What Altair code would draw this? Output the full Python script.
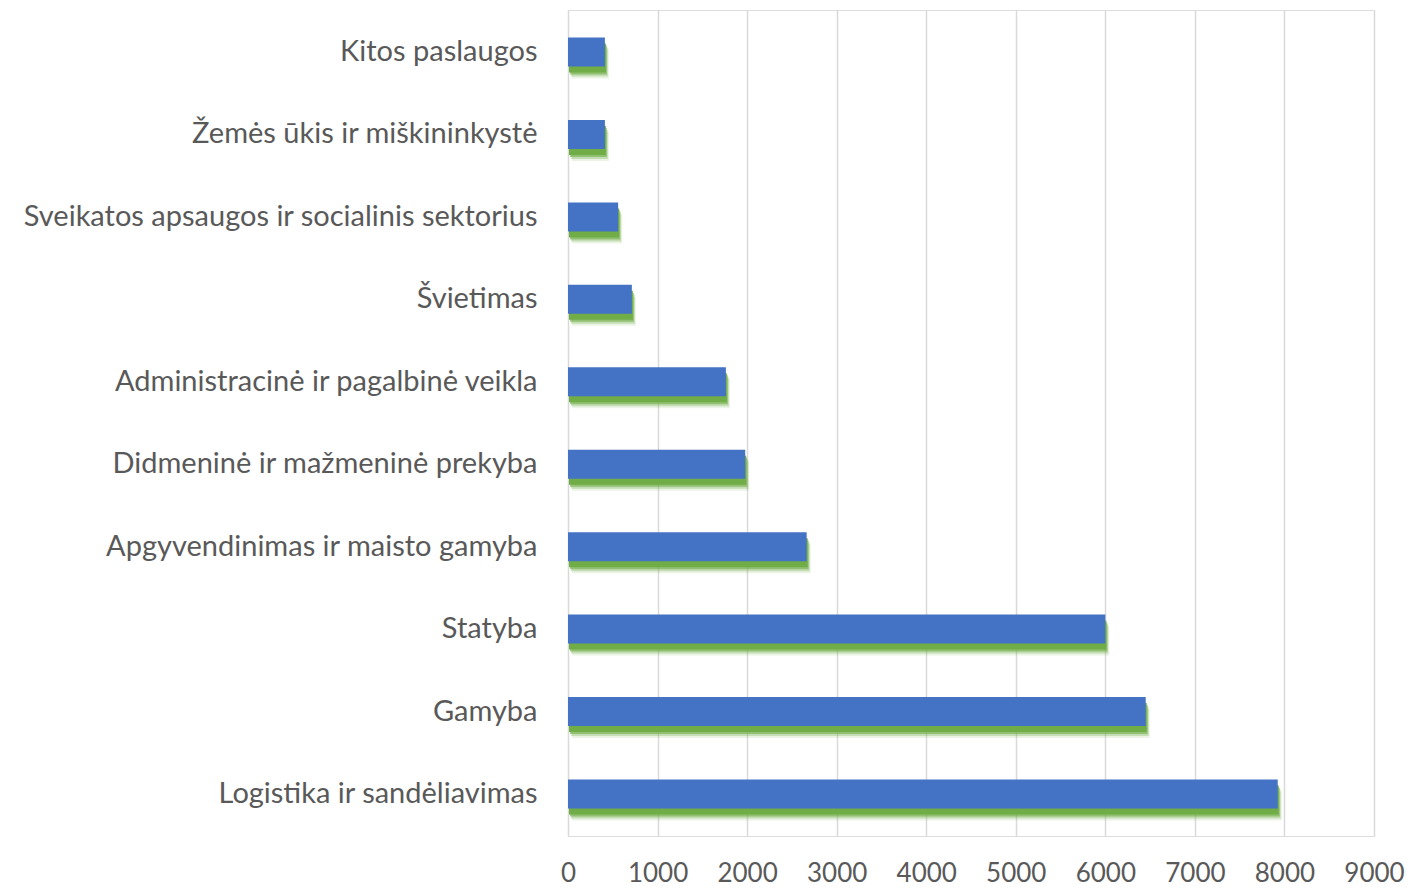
import altair as alt
import pandas as pd

categories = [
    "Kitos paslaugos",
    "Žemės ūkis ir miškininkystė",
    "Sveikatos apsaugos ir socialinis sektorius",
    "Švietimas ",
    "Administracinė ir pagalbinė veikla",
    "Didmeninė ir mažmeninė prekyba",
    "Apgyvendinimas ir maisto gamyba",
    "Statyba",
    "Gamyba",
    "Logistika ir sandėliavimas",
]
values = [412, 412, 560, 713, 1763, 1979, 2665, 6000, 6451, 7925]
x_ticks = [0, 1000, 2000, 3000, 4000, 5000, 6000, 7000, 8000, 9000]

df = pd.DataFrame({"cat": categories, "val": values})

FONT = "Lato"
GREY = "#595959"

y_enc = alt.Y(
    "cat:N",
    sort=categories,
    title=None,
    scale=alt.Scale(paddingInner=0.648, paddingOuter=0.334),
    axis=alt.Axis(
        labelFont=FONT, labelFontSize=29, labelColor=GREY, labelPadding=31,
        ticks=False, domain=False, grid=False, labelLimit=0,
    ),
)
x_enc = alt.X(
    "val:Q",
    title=None,
    scale=alt.Scale(domain=[0, 9000], nice=False),
    axis=alt.Axis(
        values=x_ticks, format="d", labelFont=FONT, labelFontSize=26, labelColor=GREY,
        labelPadding=24, ticks=False, domain=False, grid=True,
        gridColor="#D9D9D9", gridWidth=1.5, labelFlush=False,
    ),
)

base = alt.Chart(df)
GREEN = "#70AD47"
shadows = [
    base.mark_bar(color=GREEN, yOffset=12, xOffset=4, opacity=0.15).encode(x=x_enc, y=y_enc),
    base.mark_bar(color=GREEN, yOffset=10, xOffset=3, opacity=0.3).encode(x=x_enc, y=y_enc),
    base.mark_bar(color=GREEN, yOffset=8, xOffset=2, opacity=0.6).encode(x=x_enc, y=y_enc),
    base.mark_bar(color=GREEN, yOffset=6, xOffset=1, opacity=1.0).encode(x=x_enc, y=y_enc),
]
bars = base.mark_bar(color="#4472C4").encode(x=x_enc, y=y_enc)

chart = alt.layer(*shadows, bars).properties(
    width=806, height=826,
    autosize=alt.AutoSizeParams(type="none"),
    padding={"left": 560, "top": 2, "right": 32, "bottom": 53},
).configure_view(stroke=None).configure(background="white")

chart.save("out.html", embed_options={"renderer": "svg", "actions": False})
